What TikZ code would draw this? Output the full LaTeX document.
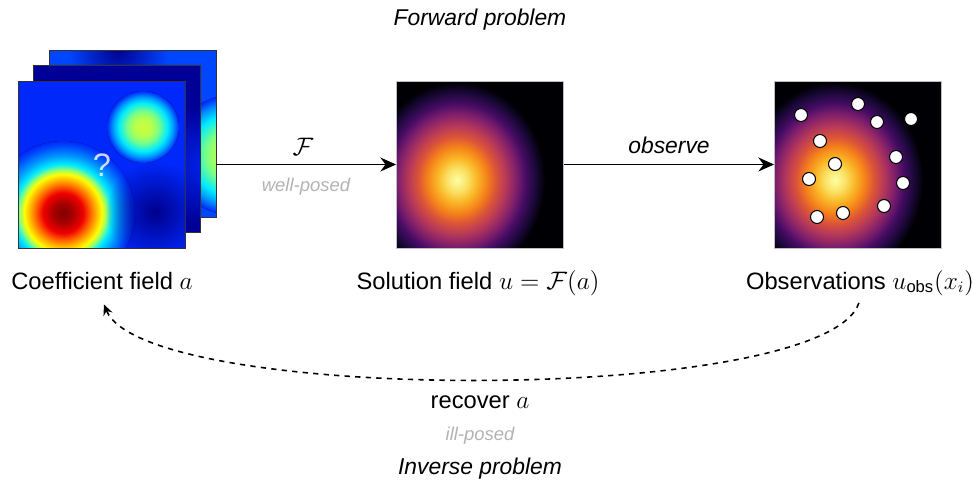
\documentclass[tikz,border=0pt]{standalone}
\usepackage{amsmath}
\usepackage[no-math]{fontspec}
\setmainfont{Liberation Sans}
\usepackage{tikz}
\usetikzlibrary{arrows.meta, positioning, fadings}

% jet colours
\definecolor{jetbase}{RGB}{0,40,250}
\definecolor{jetback}{RGB}{0,70,255}
\definecolor{jetmid}{RGB}{0,0,150}
\definecolor{jetnavy}{RGB}{0,0,140}
\definecolor{jetblue}{RGB}{0,35,235}
\definecolor{jr0}{RGB}{128,0,0}
\definecolor{jr1}{RGB}{170,0,0}
\definecolor{jr2}{RGB}{240,0,0}
\definecolor{jr3}{RGB}{255,100,0}
\definecolor{jr4}{RGB}{255,180,0}
\definecolor{jr5}{RGB}{255,255,0}
\definecolor{jr6}{RGB}{150,255,110}
\definecolor{jr7}{RGB}{0,235,255}
\definecolor{jr8}{RGB}{0,150,255}
\definecolor{jr9}{RGB}{0,80,252}
\definecolor{jg0}{RGB}{200,255,60}
\definecolor{jg1}{RGB}{185,255,75}
\definecolor{jg2}{RGB}{120,255,135}
% inferno colours
\definecolor{in0}{RGB}{252,255,164}
\definecolor{in1}{RGB}{250,225,100}
\definecolor{in2}{RGB}{250,185,40}
\definecolor{in3}{RGB}{245,130,25}
\definecolor{in4}{RGB}{220,85,55}
\definecolor{in5}{RGB}{180,55,90}
\definecolor{in6}{RGB}{125,30,108}
\definecolor{in7}{RGB}{70,12,100}
\definecolor{in8}{RGB}{25,8,55}
\definecolor{in9}{RGB}{0,0,4}

\pgfdeclareradialshading{redblob}{\pgfpoint{0bp}{0bp}}{color(0bp)=(jr0); color(3.5bp)=(jr1); color(7bp)=(jr2); color(9.5bp)=(jr3); color(11.5bp)=(jr4); color(13.5bp)=(jr5); color(15bp)=(jr6); color(17bp)=(jr7); color(20bp)=(jr8); color(23bp)=(jr9); color(25bp)=(jetbase); color(50bp)=(jetbase)}
\pgfdeclareradialshading{greenblob}{\pgfpoint{0bp}{0bp}}{color(0bp)=(jg0); color(6bp)=(jg1); color(11bp)=(jg2); color(17bp)=(jr7); color(21bp)=(jr8); color(25bp)=(jetbase); color(50bp)=(jetbase)}
\pgfdeclareradialshading{inferno}{\pgfpoint{0bp}{0bp}}{color(0bp)=(in0); color(3bp)=(in1); color(5.5bp)=(in2); color(8.5bp)=(in3); color(11bp)=(in4); color(14bp)=(in5); color(17bp)=(in6); color(19.5bp)=(in7); color(22.5bp)=(in8); color(25bp)=(in9); color(50bp)=(in9)}
\tikzfading[name=fade out, inner color=transparent!0, outer color=transparent!100]

\tikzset{
    layer/.style={rectangle, minimum size=3.34cm, inner sep=0pt, draw=black!80, line width=0.5pt},
    heatmap/.style={rectangle, minimum size=3.34cm, inner sep=0pt, draw=black!25, line width=0.5pt},
    caption/.style={anchor=base, font=\fontsize{13.5}{16}\selectfont, text depth=0.25em},
    heading/.style={anchor=base, font=\fontsize{13}{15}\selectfont\itshape},
    note/.style={anchor=base, font=\fontsize{10.5}{12}\selectfont\itshape, text=black!30},
    probe/.style={draw=black, fill=white, line width=0.6pt},
    arrow/.style={line width=0.9pt,->,>={Stealth[length=9pt, width=8pt, inset=3pt]}},
    backarrow/.style={line width=0.9pt,dashed,->,>={Stealth[length=6pt, width=5.5pt, inset=2pt]}}
}

\begin{document}
\begin{tikzpicture}[x=0.02cm, y=-0.02cm]
    \useasboundingbox (0,0) rectangle (973,488);

    % coefficient field, three stacked samples
    \begin{scope}
        \clip (49,51) rectangle (216,217);
        \fill[jetback] (49,51) rectangle (216,217);
        \fill[jetnavy, path fading=fade out] (118,48) circle (50);
        \fill[shading=greenblob] (232,155) circle (60);
    \end{scope}
    \node (coefback) [layer] at (132.5,134) {};
    \begin{scope}
        \clip (33,66) rectangle (200,232);
        \fill[jetmid] (33,66) rectangle (200,232);
        \fill[jetblue, path fading=fade out] (205,165) circle (60);
    \end{scope}
    \node (coefmid) [layer] at (116.5,149) {};
    \begin{scope}
        \clip (18,81) rectangle (185,248);
        \fill[jetbase] (18,81) rectangle (185,248);
        \fill[shading=redblob] (63,213) circle (72);
        \fill[shading=greenblob] (143,127) circle (36);
        \fill[jetnavy, path fading=fade out] (155,212) circle (50);
    \end{scope}
    \node (coef) [layer] at (101.5,164.5) {};
    \node (unknown) [font=\fontsize{18.5}{20}\selectfont, text=white, text opacity=0.8] at (102,165) {?};

    % solution field
    \begin{scope}
        \clip (396,81) rectangle (564,248);
        \fill[in9] (396,81) rectangle (564,248);
        \fill[shading=inferno] (457,180) ellipse (88 and 98);
    \end{scope}
    \node (sol) [heatmap] at (480,164.5) {};

    % observations
    \begin{scope}
        \clip (774,81) rectangle (942,248);
        \fill[in9] (774,81) rectangle (942,248);
        \fill[shading=inferno] (835,180) ellipse (88 and 98);
    \end{scope}
    \node (obs) [heatmap] at (858,164.5) {};
    \foreach \p in {(801,115),(858,104),(877,122),(911,119),(820,141),(896,157),(835,164),(809,179),(903,183),(884,206),(843,213),(817,217)}
        \draw[probe] \p circle (6.5);

    % captions
    \node (coeftxt) [caption] at (102,289) {Coefficient field $a$};
    \node (soltxt) [caption] at (478,289) {Solution field $u=\mathcal{F}(a)$};
    \node (obstxt) [caption] at (860,289) {Observations $u_{\text{obs}}(x_i)$};

    \node (fwd) [heading] at (480,25) {Forward problem};
    \node (inv) [heading] at (480,474) {Inverse problem};

    \node (optxt) [caption, text depth=0pt] at (303,155) {$\mathcal{F}$};
    \node (wellposed) [note] at (306,191) {well-posed};
    \node (observetxt) [heading] at (669,153) {observe};
    \node (recover) [caption, text depth=0pt] at (480,408) {recover $a$};
    \node (illposed) [note] at (480,440) {ill-posed};

    \draw [arrow] (coef.east -| coefback.east) -- (sol.west);
    \draw [arrow] (sol) -- (obs);
    \draw [backarrow, shorten <=2pt, shorten >=3pt] (obstxt.south) .. controls (825,405) and (145,405) .. (coeftxt.south);
\end{tikzpicture}
\end{document}
